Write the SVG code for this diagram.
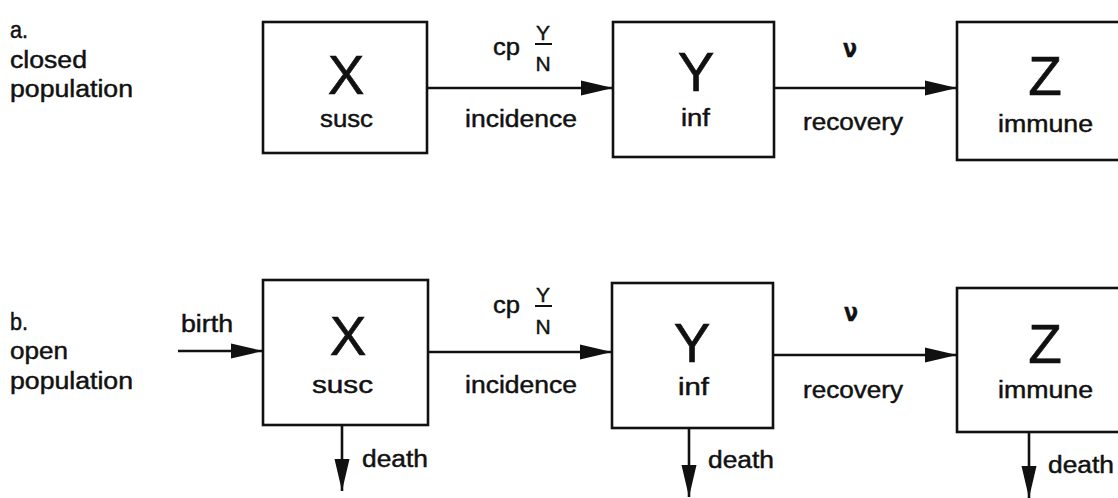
<svg xmlns="http://www.w3.org/2000/svg" width="1118" height="498" viewBox="0 0 1118 498">
<style>
text{font-family:"Liberation Sans",Arial,sans-serif;fill:#111;stroke:#111;stroke-width:0.45;}
.lbl{font-size:23px;}
.big{font-size:55px;text-anchor:middle;stroke-width:0.6;}
.frac{font-size:21px;text-anchor:middle;}
.nu{font-size:24px;font-weight:bold;font-family:"DejaVu Sans",sans-serif;}
.box{fill:none;stroke:#111;stroke-width:2.6;}
.ln{stroke:#111;stroke-width:2.6;fill:none;marker-end:url(#ah);}
.bar{stroke:#111;stroke-width:2;}
</style>
<defs>
<marker id="ah" markerUnits="userSpaceOnUse" markerWidth="32" markerHeight="16" refX="32" refY="8" orient="auto">
<path d="M0,0.5 L32,8 L0,15.5 z" fill="#111"/>
</marker>
</defs>
<rect width="1118" height="498" fill="#fff"/>

<g id="label-a">
<text class="lbl" x="10" y="38" textLength="18" lengthAdjust="spacingAndGlyphs">a.</text>
<text class="lbl" x="10" y="68" textLength="77" lengthAdjust="spacingAndGlyphs">closed</text>
<text class="lbl" x="10" y="97" textLength="123" lengthAdjust="spacingAndGlyphs">population</text>
</g>
<g id="label-b">
<text class="lbl" x="10" y="330" textLength="18" lengthAdjust="spacingAndGlyphs">b.</text>
<text class="lbl" x="10" y="359" textLength="58" lengthAdjust="spacingAndGlyphs">open</text>
<text class="lbl" x="10" y="389" textLength="123" lengthAdjust="spacingAndGlyphs">population</text>
</g>

<g id="a-X">
<rect class="box" x="263" y="22" width="164" height="131"/>
<text class="big" x="346" y="94">X</text>
<text class="lbl" x="320" y="127" textLength="53" lengthAdjust="spacingAndGlyphs">susc</text>
</g>
<g id="a-Y">
<rect class="box" x="613" y="22" width="161" height="135"/>
<text class="big" x="696" y="91">Y</text>
<text class="lbl" x="681" y="126" textLength="29" lengthAdjust="spacingAndGlyphs">inf</text>
</g>
<g id="a-Z">
<rect class="box" x="957" y="22" width="200" height="138"/>
<text class="big" x="1045" y="95">Z</text>
<text class="lbl" x="998" y="132" textLength="95" lengthAdjust="spacingAndGlyphs">immune</text>
</g>

<g id="b-X">
<rect class="box" x="263" y="280" width="165" height="145"/>
<text class="big" x="348" y="355">X</text>
<text class="lbl" x="312" y="393" textLength="61" lengthAdjust="spacingAndGlyphs">susc</text>
</g>
<g id="b-Y">
<rect class="box" x="612" y="283" width="161" height="145"/>
<text class="big" x="692" y="362">Y</text>
<text class="lbl" x="678" y="395" textLength="31" lengthAdjust="spacingAndGlyphs">inf</text>
</g>
<g id="b-Z">
<rect class="box" x="957" y="288" width="200" height="144"/>
<text class="big" x="1045" y="363">Z</text>
<text class="lbl" x="998" y="398" textLength="95" lengthAdjust="spacingAndGlyphs">immune</text>
</g>

<g id="connectors">
<line class="ln" x1="427" y1="88" x2="613" y2="88"/>
<line class="ln" x1="774" y1="88" x2="957" y2="88"/>
<line class="ln" x1="178" y1="351" x2="263" y2="351"/>
<line class="ln" x1="428" y1="352" x2="612" y2="352"/>
<line class="ln" x1="773" y1="355" x2="957" y2="355"/>
<line class="ln" x1="342" y1="425" x2="342" y2="491"/>
<line class="ln" x1="689" y1="428" x2="689" y2="497"/>
<line class="ln" x1="1029" y1="432" x2="1029" y2="498"/>
</g>

<g id="edge-labels">
<text class="lbl" x="493" y="55" textLength="27" lengthAdjust="spacingAndGlyphs">cp</text>
<text class="frac" x="543" y="40">Y</text>
<line class="bar" x1="535" y1="44" x2="552" y2="44"/>
<text class="frac" x="543" y="71">N</text>
<text class="lbl" x="465" y="127" textLength="112" lengthAdjust="spacingAndGlyphs">incidence</text>
<text class="nu" x="843" y="57" textLength="14" lengthAdjust="spacingAndGlyphs">ν</text>
<text class="lbl" x="803" y="130" textLength="100" lengthAdjust="spacingAndGlyphs">recovery</text>

<text class="lbl" x="181" y="332" textLength="52" lengthAdjust="spacingAndGlyphs">birth</text>
<text class="lbl" x="493" y="313" textLength="27" lengthAdjust="spacingAndGlyphs">cp</text>
<text class="frac" x="543" y="302">Y</text>
<line class="bar" x1="535" y1="306" x2="552" y2="306"/>
<text class="frac" x="543" y="334">N</text>
<text class="lbl" x="465" y="393" textLength="112" lengthAdjust="spacingAndGlyphs">incidence</text>
<text class="nu" x="844" y="321" textLength="14" lengthAdjust="spacingAndGlyphs">ν</text>
<text class="lbl" x="803" y="398" textLength="100" lengthAdjust="spacingAndGlyphs">recovery</text>
<text class="lbl" x="362" y="467" textLength="66" lengthAdjust="spacingAndGlyphs">death</text>
<text class="lbl" x="708" y="468" textLength="66" lengthAdjust="spacingAndGlyphs">death</text>
<text class="lbl" x="1048" y="473" textLength="66" lengthAdjust="spacingAndGlyphs">death</text>
</g>
</svg>
